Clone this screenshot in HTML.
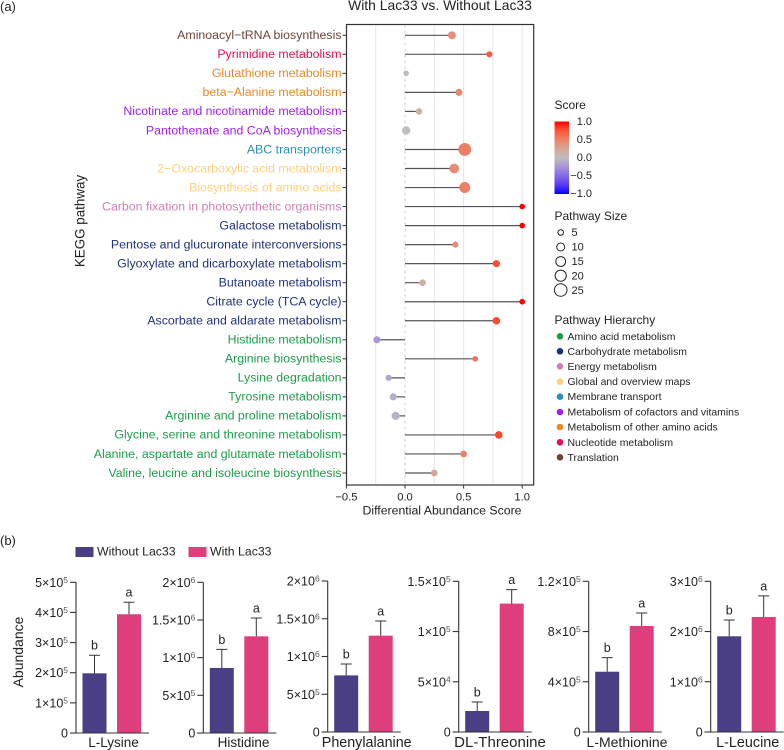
<!DOCTYPE html>
<html lang="en">
<head>
<meta charset="utf-8">
<title>With Lac33 vs. Without Lac33</title>
<style>
html,body{margin:0;padding:0;background:#fff;}
svg{display:block;font-family:"Liberation Sans",Arial,sans-serif;}
</style>
</head>
<body>
<svg id="figure" width="784" height="750" viewBox="0 0 784 750" xmlns="http://www.w3.org/2000/svg">
  <defs>
    <linearGradient id="scoreGradient" x1="0" y1="0" x2="0" y2="1">
      <stop offset="0" stop-color="#ff0000"/>
      <stop offset="0.125" stop-color="#fb5636"/>
      <stop offset="0.25" stop-color="#ec8168"/>
      <stop offset="0.375" stop-color="#d7a596"/>
      <stop offset="0.5" stop-color="#bebebe"/>
      <stop offset="0.625" stop-color="#a993d8"/>
      <stop offset="0.75" stop-color="#8468e8"/>
      <stop offset="0.875" stop-color="#5a3af5"/>
      <stop offset="1" stop-color="#0000ff"/>
    </linearGradient>
  </defs>
  <text x="0" y="11" font-size="13" fill="#222">(a)</text>
  <text x="0" y="545" font-size="13" fill="#222">(b)</text>
  <text x="440" y="10" font-size="13.9" text-anchor="middle" fill="#222">With Lac33 vs. Without Lac33</text>
  <text transform="translate(84.5,221) rotate(-90)" font-size="13.4" text-anchor="middle" fill="#222">KEGG pathway</text>
  <text x="442" y="514.3" font-size="12.3" text-anchor="middle" fill="#222">Differential Abundance Score</text>
  <g id="lollipop"></g>

  <g>
    <text x="554.5" y="109" font-size="12" fill="#222">Score</text>
    <rect x="554.5" y="121.5" width="14.5" height="72.5" fill="url(#scoreGradient)"/>
    <g font-size="11" fill="#222" text-anchor="end">
      <text x="592" y="125">1.0</text>
      <text x="592" y="143">0.5</text>
      <text x="592" y="161">0.0</text>
      <text x="592" y="179">−0.5</text>
      <text x="592" y="197">−1.0</text>
    </g>
  </g>

  <g>
    <text x="554.5" y="220" font-size="12" fill="#222">Pathway Size</text>
    <g fill="#fff" stroke="#222" stroke-width="1">
      <circle cx="560.7" cy="232.5" r="2.8"/>
      <circle cx="560.7" cy="247" r="4"/>
      <circle cx="560.7" cy="261.5" r="4.9"/>
      <circle cx="560.7" cy="275.7" r="5.6"/>
      <circle cx="560.7" cy="290" r="6.3"/>
    </g>
    <g font-size="11" fill="#222">
      <text x="571.5" y="236">5</text>
      <text x="571.5" y="250.5">10</text>
      <text x="571.5" y="265">15</text>
      <text x="571.5" y="279.5">20</text>
      <text x="571.5" y="294">25</text>
    </g>
  </g>

  <g>
    <text x="554.5" y="324" font-size="12" fill="#222">Pathway Hierarchy</text>
    <g font-size="10.45" fill="#222">
      <circle cx="560" cy="336.3" r="3.3" fill="#1e9b4b"/>
      <text x="567.5" y="339.8">Amino acid metabolism</text>
      <circle cx="560" cy="351.3" r="3.3" fill="#1f3278"/>
      <text x="567.5" y="354.8">Carbohydrate metabolism</text>
      <circle cx="560" cy="366.3" r="3.3" fill="#cf7fb8"/>
      <text x="567.5" y="369.8">Energy metabolism</text>
      <circle cx="560" cy="381.7" r="3.3" fill="#fdd07b"/>
      <text x="567.5" y="385.2">Global and overview maps</text>
      <circle cx="560" cy="396.7" r="3.3" fill="#2e8fae"/>
      <text x="567.5" y="400.2">Membrane transport</text>
      <circle cx="560" cy="412" r="3.3" fill="#a020f0"/>
      <text x="567.5" y="415.5">Metabolism of cofactors and vitamins</text>
      <circle cx="560" cy="427" r="3.3" fill="#e58a26"/>
      <text x="567.5" y="430.5">Metabolism of other amino acids</text>
      <circle cx="560" cy="442.3" r="3.3" fill="#dc1450"/>
      <text x="567.5" y="445.8">Nucleotide metabolism</text>
      <circle cx="560" cy="457.3" r="3.3" fill="#6e4437"/>
      <text x="567.5" y="460.8">Translation</text>
    </g>
  </g>

  <g>
    <rect x="75.5" y="547" width="18" height="10" fill="#4a3f85"/>
    <text x="97" y="555.5" font-size="12.3" fill="#222">Without Lac33</text>
    <rect x="188.5" y="547" width="18" height="10" fill="#de3f7c"/>
    <text x="210" y="555.5" font-size="12.3" fill="#222">With Lac33</text>
  </g>
  <text transform="translate(23,652) rotate(-90)" font-size="14" text-anchor="middle" fill="#222">Abundance</text>
  <g id="bars"></g>
</svg>

<script>
/* ---------- Lollipop chart data ---------- */
const pathways = ["Aminoacyl−tRNA biosynthesis","Pyrimidine metabolism","Glutathione metabolism","beta−Alanine metabolism","Nicotinate and nicotinamide metabolism","Pantothenate and CoA biosynthesis","ABC transporters","2−Oxocarboxylic acid metabolism","Biosynthesis of amino acids","Carbon fixation in photosynthetic organisms","Galactose metabolism","Pentose and glucuronate interconversions","Glyoxylate and dicarboxylate metabolism","Butanoate metabolism","Citrate cycle (TCA cycle)","Ascorbate and aldarate metabolism","Histidine metabolism","Arginine biosynthesis","Lysine degradation","Tyrosine metabolism","Arginine and proline metabolism","Glycine, serine and threonine metabolism","Alanine, aspartate and glutamate metabolism","Valine, leucine and isoleucine biosynthesis"];
const pathwayColors = ["#6e4437","#dc1450","#e58a26","#e58a26","#a020f0","#a020f0","#2e8fae","#fdd07b","#fdd07b","#cf7fb8","#1f3278","#1f3278","#1f3278","#1f3278","#1f3278","#1f3278","#1e9b4b","#1e9b4b","#1e9b4b","#1e9b4b","#1e9b4b","#1e9b4b","#1e9b4b","#1e9b4b"];
const scores = [0.40,0.72,0.01,0.46,0.12,0.01,0.51,0.42,0.51,1.0,1.0,0.43,0.78,0.15,1.0,0.78,-0.24,0.60,-0.14,-0.10,-0.08,0.80,0.50,0.25];
const pathwaySizes = [10,6,5,8,7,11,26,15,19,5,5,6,8,7,5,9,8,5,6,8,10,9,7,7];
const xTicks = [-0.5,0,0.5,1];
const xTickLabels = ["−0.5","0.0","0.5","1.0"];
const xGrid = [-0.25,0.25,0.5,0.75,1];

/* ---------- Bar chart data ---------- */
const metabolites = ["L-Lysine","Histidine","Phenylalanine","DL-Threonine","L-Methionine","L-Leucine"];
const withoutMeans = [198000,863000,750000,20900,480000,1905000];
const withoutTops = [258000,1110000,900000,29900,592000,2230000];
const withMeans = [394000,1283000,1276000,127800,844000,2290000];
const withTops = [434000,1526000,1470000,141700,948000,2710000];
const axisMaxima = [500000,2000000,2000000,150000,1200000,3000000];
const tickValues = [
  [0,100000,200000,300000,400000,500000],
  [0,500000,1000000,1500000,2000000],
  [0,500000,1000000,1500000,2000000],
  [0,50000,100000,150000],
  [0,400000,800000,1200000],
  [0,1000000,2000000,3000000]
];
const tickLabels = [
  ["0","1×10^5","2×10^5","3×10^5","4×10^5","5×10^5"],
  ["0","5×10^5","1×10^6","1.5×10^6","2×10^6"],
  ["0","5×10^5","1×10^6","1.5×10^6","2×10^6"],
  ["0","5×10^4","1×10^5","1.5×10^5"],
  ["0","4×10^5","8×10^5","1.2×10^5"],
  ["0","1×10^6","2×10^6","3×10^6"]
];
const withoutLetter = "b";
const withLetter = "a";

/* ---------- Helpers ---------- */
const NS = "http://www.w3.org/2000/svg";
function make(tag, parent, props, text) {
  const el = document.createElementNS(NS, tag);
  for (const k in props) el.setAttribute(k, props[k]);
  if (text !== undefined) el.textContent = text;
  parent.appendChild(el);
  return el;
}
function mix(a, b, t) {
  const pa = [1,3,5].map(i => parseInt(a.substr(i,2),16));
  const pb = [1,3,5].map(i => parseInt(b.substr(i,2),16));
  return "rgb(" + pa.map((v,i) => Math.round(v + (pb[i]-v)*t)).join(",") + ")";
}
function scoreColor(s) {
  const ramp = ["#0000ff","#5a3af5","#8468e8","#a993d8","#bebebe","#d7a596","#ec8168","#fb5636","#ff0000"];
  const p = (Math.max(-1, Math.min(1, s)) + 1) * 4;
  const i = Math.min(7, Math.floor(p));
  return mix(ramp[i], ramp[i+1], p - i);
}

/* ---------- Lollipop ---------- */
(function () {
  const g = document.getElementById("lollipop");
  const panelLeft = 346.5, panelRight = 533.7, panelTop = 24.5, panelBottom = 485;
  const xScale = v => 405 + v * 117.2;
  const yScale = i => 35.3 + i * 19.03;
  const rScale = s => 1.26 * Math.sqrt(s);

  xGrid.forEach(function (v) {
    const line = make("line", g, {x1:xScale(v), x2:xScale(v), y1:panelTop, y2:panelBottom, stroke:"#e6e6e6", "stroke-width":1});
    
    
  });
  const zero = make("line", g, {x1:xScale(0), x2:xScale(0), y1:panelTop, y2:panelBottom, stroke:"#d8d8d8", "stroke-width":1.2, "stroke-dasharray":"3 3"});
  
  

  pathways.forEach(function (name, i) {
    const y = yScale(i);
    const tick = make("line", g, {x1:panelLeft-4, x2:panelLeft, y1:y, y2:y, stroke:"#333", "stroke-width":1});
    
    
    const label = make("text", g, {x:341.5, y:y+3.8, "text-anchor":"end", "font-size":12.35, fill:pathwayColors[i]}, name);
    
    
    const stem = make("line", g, {x1:xScale(0), x2:xScale(scores[i]), y1:y, y2:y, stroke:"#555", "stroke-width":1.2});
    
    
    const dot = make("circle", g, {cx:xScale(scores[i]), cy:y, r:rScale(pathwaySizes[i]), fill:scoreColor(scores[i])});
    
    
  });

  const frame = make("rect", g, {x:panelLeft, y:panelTop, width:panelRight-panelLeft, height:panelBottom-panelTop, fill:"none", stroke:"#333", "stroke-width":1.2});
  
  

  xTicks.forEach(function (v, i) {
    const tick = make("line", g, {x1:xScale(v), x2:xScale(v), y1:panelBottom, y2:panelBottom+3.5, stroke:"#333", "stroke-width":1});
    
    
    const label = make("text", g, {x:xScale(v), y:500.5, "text-anchor":"middle", "font-size":11.2, fill:"#222"}, xTickLabels[i]);
    
    
  });
})();

/* ---------- Bar charts ---------- */
(function () {
  const host = document.getElementById("bars");
  const axisX = [76, 203.3, 327.7, 458.7, 588.7, 710.7];
  const axisTop = [582.3, 582.3, 581, 581.3, 581.3, 581.3];
  const axisBase = [733, 733, 732, 732, 732, 732];
  const labelX = [113.5, 243.5, 366.7, 500, 627, 747.7];
  const labelFont = [13.5, 13.5, 14.3, 15, 14, 14.4];
  const ink = "#333";

  metabolites.forEach(function (name, c) {
    const g = make("g", host, {});
    
    
    const ax = axisX[c];
    const y = v => axisBase[c] - (v / axisMaxima[c]) * (axisBase[c] - axisTop[c]);

    function group(left, mean, top, color, letter, seriesName) {
      const mid = left + 12;
      const bar = make("rect", g, {x:left, y:y(mean), width:24, height:axisBase[c]-y(mean), fill:color});
      
      
      const stem = make("path", g, {d:"M"+mid+" "+y(mean)+"V"+y(top)+"M"+(mid-5.5)+" "+y(top)+"H"+(mid+5.5), fill:"none", stroke:ink, "stroke-width":1});
      
      
      const txt = make("text", g, {x:mid, y:y(top)-5.5, "text-anchor":"middle", "font-size":12.5, fill:"#222"}, letter);
      
      
    }
    group(ax + 6.5, withoutMeans[c], withoutTops[c], "#4a3f85", withoutLetter, "without-lac33");
    group(ax + 41, withMeans[c], withTops[c], "#de3f7c", withLetter, "with-lac33");

    const axis = make("path", g, {d:"M"+ax+" "+axisTop[c]+"V"+axisBase[c]+"M"+(ax-6)+" "+axisBase[c]+"H"+Math.min(ax+73, 784), fill:"none", stroke:ink, "stroke-width":1.1});
    
    

    tickValues[c].forEach(function (v, i) {
      const tick = make("line", g, {x1:ax-6, x2:ax, y1:y(v), y2:y(v), stroke:ink, "stroke-width":1.1});
      
      
      const parts = tickLabels[c][i].split("^");
      const label = make("text", g, {x:ax-8, y:y(v)+4.5, "text-anchor":"end", "font-size":12.5, fill:"#222"}, parts[0]);
      
      
      if (parts[1]) {
        const sup = make("tspan", label, {dy:-4, "font-size":8.5, fill:"#555"}, parts[1]);
        
        
      }
    });

    const xl = make("text", g, {x:labelX[c], y:747, "text-anchor":"middle", "font-size":labelFont[c], fill:"#222"}, name);
    
    
  });
})();
</script>
</body>
</html>
